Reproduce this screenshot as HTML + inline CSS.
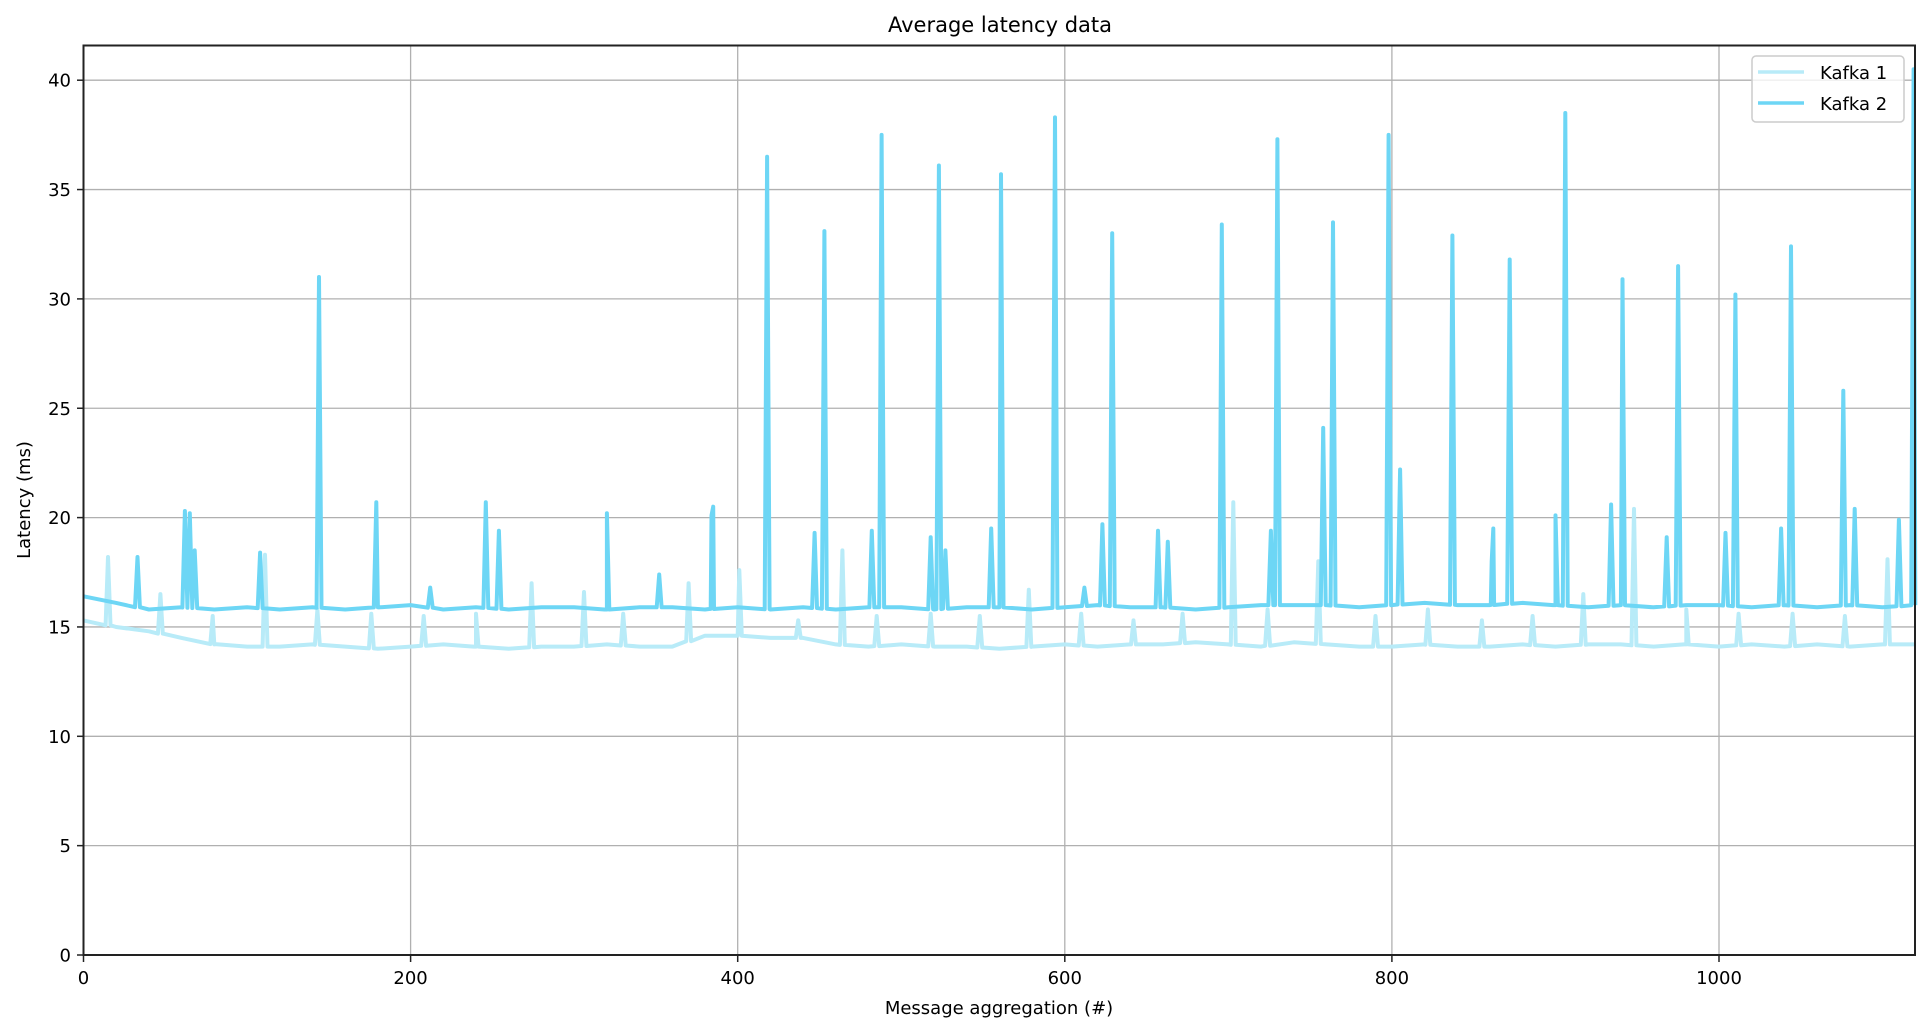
<!DOCTYPE html>
<html><head><meta charset="utf-8"><style>
body{margin:0;background:#fff;}
svg{display:block;font-family:"DejaVu Sans","Liberation Sans",sans-serif;}
</style></head><body>
<svg id="chart" width="1930" height="1033">
<rect width="1930" height="1033" fill="#fff"/>
<g id="grid"></g>
<g id="series"></g>
<rect x="83.5" y="45.5" width="1831.5" height="909.5" fill="none" stroke="#222" stroke-width="2"/>
<g id="ticks"></g>
<text x="1000" y="32" font-size="21" text-anchor="middle">Average latency data</text>
<text x="999" y="1014" font-size="18" text-anchor="middle">Message aggregation (#)</text>
<text transform="translate(30,500) rotate(-90)" font-size="18" text-anchor="middle">Latency (ms)</text>
<g>
<rect x="1752" y="56" width="152" height="66" rx="4" fill="#fff" fill-opacity="0.8" stroke="#ccc" stroke-width="1.5"/>
<line x1="1758" y1="72" x2="1804" y2="72" stroke="#b8ebf8" stroke-width="3.5"/>
<text x="1820" y="79" font-size="18">Kafka 1</text>
<line x1="1758" y1="103" x2="1804" y2="103" stroke="#6dd6f5" stroke-width="3.5"/>
<text x="1820" y="110" font-size="18">Kafka 2</text>
</g>
</svg>
<script>
const xTicks=[0,200,400,600,800,1000];
const yTicks=[0,5,10,15,20,25,30,35,40];
const baseStep=20;
const k1Base=[15.3,15.0,14.8,14.5,14.2,14.1,14.1,14.2,14.1,14.0,14.1,14.2,14.1,14.0,14.1,14.1,14.2,14.1,14.1,14.6,14.6,14.5,14.5,14.2,14.1,14.2,14.1,14.1,14.0,14.1,14.2,14.1,14.2,14.2,14.3,14.2,14.1,14.3,14.2,14.1,14.1,14.2,14.1,14.1,14.2,14.1,14.2,14.2,14.1,14.2,14.1,14.2,14.1,14.2,14.1,14.2,14.2];
const k2Base=[16.4,16.1,15.8,15.9,15.8,15.9,15.8,15.9,15.8,15.9,16.0,15.8,15.9,15.8,15.9,15.9,15.8,15.9,15.9,15.8,15.9,15.8,15.9,15.8,15.9,15.9,15.8,15.9,15.9,15.8,15.9,16.0,15.9,15.9,15.8,15.9,16.0,16.0,16.0,15.9,16.0,16.1,16.0,16.0,16.1,16.0,15.9,16.0,15.9,16.0,16.0,15.9,16.0,15.9,16.0,15.9,16.0];
const k1SpikeIdx=[15,47,79,111,143,176,208,240,274,306,330,370,401,437,464,485,518,548,578,610,642,672,703,724,755,790,822,855,886,917,948,980,1012,1045,1077,1103];
const k1SpikeVal=[18.2,16.5,15.5,18.3,15.8,15.6,15.5,15.6,17.0,16.6,15.6,17.0,17.6,15.3,18.5,15.5,15.6,15.5,16.7,15.6,15.3,15.6,20.7,15.8,18.0,15.5,15.8,15.3,15.5,16.5,20.4,15.8,15.6,15.6,15.5,18.1];
const k2SpikeIdx=[33,62,65,68,108,144,179,212,246,254,320,352,384,385,418,447,453,482,488,518,523,527,555,561,594,612,623,629,657,663,696,726,730,758,764,798,805,837,861,862,872,900,906,934,941,968,975,1004,1010,1038,1044,1076,1083,1110,1119];
const k2SpikeVal=[18.2,20.3,20.2,18.5,18.4,31.0,20.7,16.8,20.7,19.4,20.2,17.4,20.1,20.5,36.5,19.3,33.1,19.4,37.5,19.1,36.1,18.5,19.5,35.7,38.3,16.8,19.7,33.0,19.4,18.9,33.4,19.4,37.3,24.1,33.5,37.5,22.2,32.9,18.0,19.5,31.8,20.1,38.5,20.6,30.9,19.1,31.5,19.3,30.2,19.5,32.4,25.8,20.4,19.9,40.5];
const NS='http://www.w3.org/2000/svg';
const X0=83.5,XS=1.6355,Y0=955,YS=21.87,XMAX=1120;
function xs(i){return X0+i*XS;}
function ys(v){return Y0-v*YS;}
function baseAt(arr,i){const k=Math.min(Math.floor(i/baseStep),arr.length-2);const t=(i-k*baseStep)/baseStep;return arr[k]*(1-t)+arr[k+1]*t;}
function buildPath(base,sIdx,sVal){
  const pts=[];
  for(let k=0;k<base.length;k++){const i=Math.min(k*baseStep,XMAX);pts.push([i,base[k]]);}
  sIdx.forEach((i,n)=>{const b=baseAt(base,i);pts.push([Math.max(i-1.5,0),b]);pts.push([i,sVal[n]]);if(i+1.5<=XMAX)pts.push([i+1.5,b]);});
  pts.sort((a,b)=>a[0]-b[0]);
  return pts.filter(p=>p[0]<=XMAX).map((p,j)=>(j?'L':'M')+xs(p[0]).toFixed(1)+','+ys(p[1]).toFixed(1)).join('');
}
const grid=document.getElementById('grid'),ticks=document.getElementById('ticks'),series=document.getElementById('series');
xTicks.forEach(t=>{
  const l=document.createElementNS(NS,'line');l.setAttribute('x1',xs(t));l.setAttribute('x2',xs(t));l.setAttribute('y1',45.5);l.setAttribute('y2',955);l.setAttribute('stroke','#b0b0b0');l.setAttribute('stroke-width','1.3');
  
  
  grid.appendChild(l);
  const tk=document.createElementNS(NS,'line');tk.setAttribute('x1',xs(t));tk.setAttribute('x2',xs(t));tk.setAttribute('y1',955);tk.setAttribute('y2',962);tk.setAttribute('stroke','#222');tk.setAttribute('stroke-width','1.5');
  
  
  ticks.appendChild(tk);
  const tx=document.createElementNS(NS,'text');tx.setAttribute('x',xs(t));tx.setAttribute('y',984);tx.setAttribute('font-size','18');tx.setAttribute('text-anchor','middle');tx.textContent=t;
  
  
  ticks.appendChild(tx);
});
yTicks.forEach(t=>{
  const l=document.createElementNS(NS,'line');l.setAttribute('x1',83.5);l.setAttribute('x2',1915);l.setAttribute('y1',ys(t));l.setAttribute('y2',ys(t));l.setAttribute('stroke','#b0b0b0');l.setAttribute('stroke-width','1.3');
  
  
  grid.appendChild(l);
  const tk=document.createElementNS(NS,'line');tk.setAttribute('x1',77);tk.setAttribute('x2',83.5);tk.setAttribute('y1',ys(t));tk.setAttribute('y2',ys(t));tk.setAttribute('stroke','#222');tk.setAttribute('stroke-width','1.5');
  
  
  ticks.appendChild(tk);
  const tx=document.createElementNS(NS,'text');tx.setAttribute('x',71);tx.setAttribute('y',ys(t)+6.5);tx.setAttribute('font-size','18');tx.setAttribute('text-anchor','end');tx.textContent=t;
  
  
  ticks.appendChild(tx);
});
const p1=document.createElementNS(NS,'path');p1.setAttribute('d',buildPath(k1Base,k1SpikeIdx,k1SpikeVal));p1.setAttribute('fill','none');p1.setAttribute('stroke','#b8ebf8');p1.setAttribute('stroke-width','4');p1.setAttribute('stroke-linejoin','round');


series.appendChild(p1);
const p2=document.createElementNS(NS,'path');p2.setAttribute('d',buildPath(k2Base,k2SpikeIdx,k2SpikeVal));p2.setAttribute('fill','none');p2.setAttribute('stroke','#6dd6f5');p2.setAttribute('stroke-width','4');p2.setAttribute('stroke-linejoin','round');


series.appendChild(p2);
</script>
</body></html>
